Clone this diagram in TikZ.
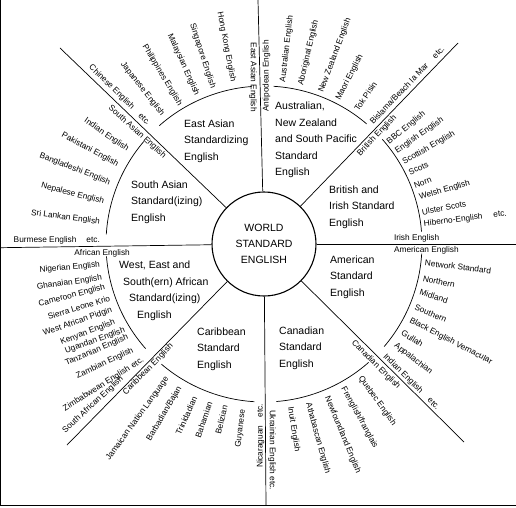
\documentclass[tikz,border=0pt]{standalone}
\usepackage{fontspec}
\setmainfont{Liberation Sans}
\usetikzlibrary{positioning}

\tikzset{
	hub/.style={circle, draw, line width=1.1pt, minimum size=104pt, inner sep=0pt, align=center, font=\fontsize{10.5}{16}\selectfont},
	region/.style={anchor=west, align=left, inner sep=0pt, font=\fontsize{10.5}{16.5}\selectfont},
	variety/.style={inner sep=0pt, font=\fontsize{8.3}{10}\selectfont},
	spoke/.style={line width=0.7pt},
}

\begin{document}
\begin{tikzpicture}[x=1pt, y=1pt]
	\useasboundingbox (-264,-263) rectangle (252,244);
	\draw[line width=1pt] (-263,244) -- (-263,-261) -- (252,-261);

	\node[hub] (world) at (0,0) {WORLD\\STANDARD\\ENGLISH};

	\coordinate (endN) at (-6,244);
	\coordinate (endNE) at (194,201);
	\coordinate (endE) at (252,0);
	\coordinate (endSE) at (200,-198);
	\coordinate (endS) at (2,-261);
	\coordinate (endSW) at (-197,-201);
	\coordinate (endW) at (-264,-3.7);
	\coordinate (endNW) at (-204,196);
	\foreach \e in {endN,endNE,endE,endSE,endS,endSW,endW,endNW}
		\draw[spoke] (world) -- (\e);

	\foreach \s in {0,45,...,315}
		\draw[spoke] (\s+4.5:158pt) arc[start angle=\s+4.5, end angle=\s+41.5, radius=158pt];

	\node[region] (eastasia) at (-80,103) {East Asian\\Standardizing\\English};
	\node[region] (pacific) at (11,104) {Australian,\\New Zealand\\and South Pacific\\Standard\\English};
	\node[region] (british) at (65,37) {British and\\Irish Standard\\English};
	\node[region] (american) at (66,-33) {American\\Standard\\English};
	\node[region] (canadian) at (15,-104) {Canadian\\Standard\\English};
	\node[region] (caribbean) at (-67,-105) {Caribbean\\Standard\\English};
	\node[region] (african) at (-145,-47) {West, East and\\\hspace*{4pt}South(ern) African\\\hspace*{10pt}Standard(izing)\\\hspace*{18pt}English};
	\node[region] (southasia) at (-133,42) {South Asian\\Standard(izing)\\English};

	\foreach \a/\r/\t/\txt [count=\i] in {
		94.8/132.5/-90/{East Asian English},
		100.8/165/-79.2/{Hong Kong English},
		108.1/164/-71.9/{Singapore English},
		114.2/163/-65.8/{Malaysian English},
		121.1/162/-58.9/{Philippines English},
		128.1/164/-51.9/{Japanese English},
		133.8/166/-44.5/{Chinese English\hspace{9pt}etc.},
		138.7/132/-42/{South Asian English},
		145.3/165.3/-34.7/{Indian English},
		151.6/166/-28.4/{Pakistani English},
		158.4/165.6/-21.6/{Bangladeshi English},
		165.3/165.4/-14.7/{Nepalese English},
		172.4/165.5/-7.6/{Sri Lankan English},
		178.6/164/0/{Burmese English\hspace{10pt}etc.},
		183.8/134.3/0/{African English},
		187.3/165.3/5/{Nigerian English},
		191.9/165.5/8/{Ghanaian English},
		195.1/164.7/15/{Cameroon English},
		199.3/163.2/17/{Sierra Leone Krio},
		203.5/165.7/19/{West African Pidgin},
		207.6/168.2/21/{Kenyan English},
		211.7/163.5/20/{Ugandan English},
		214.4/164.8/23/{Tanzanian English},
		219/168.5/25/{Zambian English},
		223.8/167/32/{Zimbabwean English\hspace{3pt}etc.},
		223.3/195/43/{South African English},
		227.7/136.6/45.6/{Caribbean English},
		234.1/165/54.1/{Jamaican Nation Language},
		239.6/166/59.6/{Barbadian/Bajan},
		245.7/168/65.7/{Trinidadian},
		251.1/167/71.1/{Bahamian},
		256.4/166/76.4/{Belizian},
		262.8/167/82.8/{Guyanese},
		268.75/160/90/{Nicaraguan\hspace{8pt}etc.}}
		\node[variety, anchor=east, rotate=\t] (inner\i) at (\a:\r) {\txt};

	\foreach \a/\r/\t/\txt [count=\i] in {
		88.9/132/90/{Antipodean English},
		83.3/163/83.3/{Australian English},
		76.9/163/76.9/{Aboriginal English},
		69.4/162/69.4/{New Zealand English},
		62.8/162/62.8/{Maori English},
		55.5/162.5/55.5/{Tok Pisin},
		48.5/161.5/46.5/{Bislama/Beach la Mar\hspace{10pt}etc.},
		43.3/130/46/{British English},
		39.2/160/39.2/{BBC English},
		34.9/161/34.9/{English English},
		30.2/161/30.2/{Scottish English},
		26.1/161.5/26.1/{Scots},
		21.1/161/21.1/{Norn},
		16.5/162/16.5/{Welsh English},
		11.4/161/11.4/{Ulster Scots},
		7.1/161/7.1/{Hiberno-English\hspace{11pt}etc.},
		2.6/130/0/{Irish English},
		-2.6/130/0/{American English},
		-6.7/162/-6.7/{Network Standard},
		-12.1/162.6/-12.1/{Northern},
		-17.1/163/-17.1/{Midland},
		-22.6/163.6/-22.6/{Southern},
		-27.5/164.6/-27.5/{Black English Vernacular},
		-32.5/163.7/-32.5/{Gullah},
		-37.6/165.4/-37.6/{Appalachian},
		-42.8/164/-44.7/{Indian English\hspace{10pt}etc.},
		-47.8/132/-44.7/{Canadian English},
		-54.2/164/-54.2/{Quebec English},
		-61.2/164/-61.2/{Frenglish/franglais},
		-67.6/165/-67.6/{Newfoundland English},
		-74.5/165/-74.5/{Athabascan English},
		-80.9/165/-80.9/{Inuit English},
		-87.2/166/-90/{Ukrainian English etc.}}
		\node[variety, anchor=west, rotate=\t] (outer\i) at (\a:\r) {\txt};
\end{tikzpicture}
\end{document}
